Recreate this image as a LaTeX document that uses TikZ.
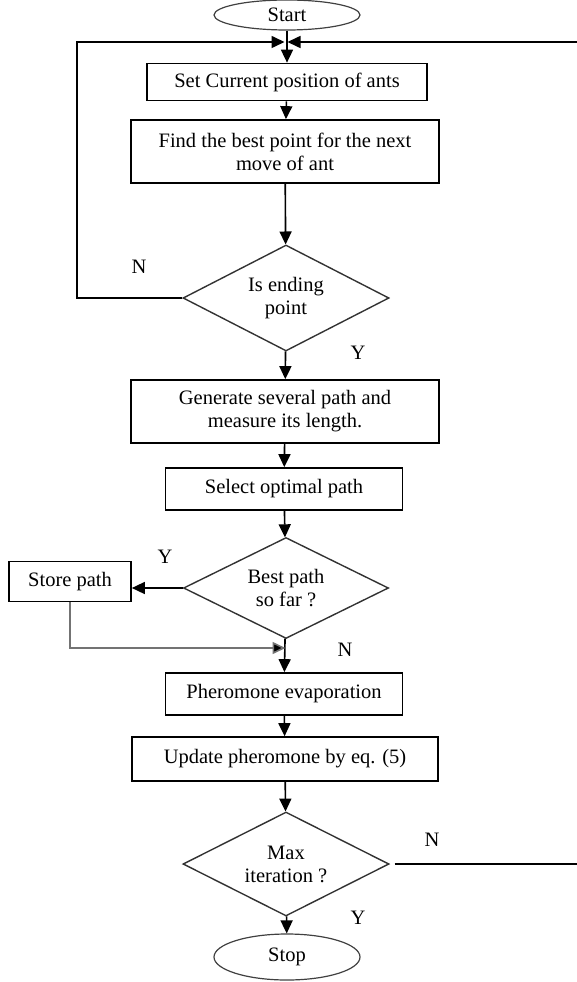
\documentclass[tikz,border=0pt]{standalone}
\usepackage{fontspec}
\setmainfont{Liberation Serif}
\usetikzlibrary{shapes.geometric,arrows.meta}
\begin{document}
\begin{tikzpicture}[x=1pt,y=-1pt,
  every node/.style={font=\fontsize{20.5}{23}\selectfont},
  procbox/.style={draw, line width=1.7pt, inner sep=0pt, align=center},
  decision/.style={draw=black!80, line width=1.4pt, diamond, aspect=2, inner sep=0pt, align=center},
  terminal/.style={draw=black!75, line width=1.2pt, ellipse, inner sep=0pt},
  conn/.style={line width=1.6pt, -{Triangle[length=13pt,width=12pt]}},
  grayconn/.style={draw=black!55, line width=1.6pt, -{Triangle[length=13pt,width=12pt,fill=black]}},
  lbl/.style={font=\fontsize{20.5}{23}\selectfont}
]
\useasboundingbox (0,0) rectangle (577,982);

\node[terminal, minimum width=146, minimum height=30] (start) at (287,15) {Start};
\node[procbox, minimum width=280, minimum height=37] (set) at (287,82) {Set Current position of ants};
\node[procbox, minimum width=308, minimum height=63] (find) at (285,151.5) {Find the best point for the next\\move of ant};
\node[decision, minimum width=206, minimum height=106] (isend) at (286,298) {Is ending\\point};
\node[procbox, minimum width=308, minimum height=63] (gen) at (285,411.5) {Generate several path and\\measure its length.};
\node[procbox, minimum width=237, minimum height=42] (sel) at (284,489) {Select optimal path};
\node[decision, minimum width=205, minimum height=101] (best) at (286,588) {Best path\\so far ?};
\node[procbox, minimum width=122, minimum height=40] (store) at (70,581.5) {Store path};
\node[procbox, minimum width=237, minimum height=42] (pher) at (284,694) {Pheromone evaporation};
\node[procbox, minimum width=306, minimum height=44] (upd) at (285,759) {Update pheromone by eq. (5)};
\node[decision, minimum width=206, minimum height=104] (max) at (286,864) {Max\\iteration ?};
\node[terminal, minimum width=146, minimum height=46] (stop) at (287,957) {Stop};

\coordinate (top) at (286,42);
\coordinate (lc) at (77,42);
\coordinate (rc) at (578.5,42);
\coordinate (rb) at (578.5,864);
\coordinate (sm) at (286,648);

\draw[conn] (start) -- (set);
\draw[conn] (set) -- (find);
\draw[conn] (find) -- (isend);
\draw[conn] (isend) -- (gen);
\draw[conn] (gen) -- (sel);
\draw[conn] (sel) -- (best);
\draw[conn] (best) -- (pher);
\draw[conn] (pher) -- (upd);
\draw[conn] (upd) -- (max);
\draw[conn] (max) -- (stop);

\draw[conn, shorten >=1.5pt] (isend.west) -- (isend.west -| lc) -- (lc) -- (top);
\draw[conn, shorten >=1.5pt, shorten <=5pt] (max.east) -- (rb) -- (rc) -- (top);
\draw[conn] (best.west) -- (best.west -| store.east);
\draw[grayconn, shorten >=0.5pt] (store.south) |- (sm);

\node[lbl] (n1) at (139,267) {N};
\node[lbl] (y1) at (358,353) {Y};
\node[lbl] (y2) at (165,557) {Y};
\node[lbl] (n2) at (345,650) {N};
\node[lbl] (n3) at (432,840) {N};
\node[lbl] (y3) at (358,918) {Y};
\end{tikzpicture}
\end{document}
